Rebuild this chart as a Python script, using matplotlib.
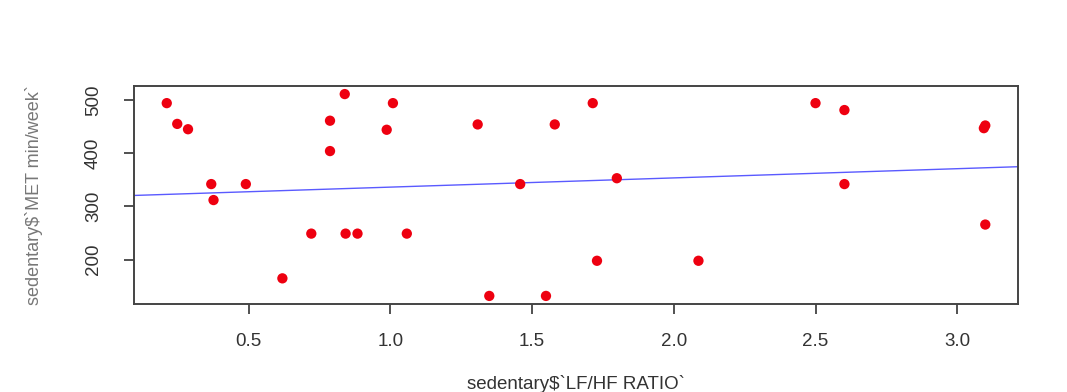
import numpy as np
import matplotlib
matplotlib.use("Agg")
import matplotlib.pyplot as plt

# LF/HF ratio vs MET min/week (sedentary group)
lf_hf = [0.211, 0.248, 0.286, 0.368, 0.376, 0.490, 0.619, 0.721, 0.787, 0.787,
         0.839, 0.842, 0.884, 0.987, 1.009, 1.058, 1.308, 1.349, 1.458, 1.549,
         1.580, 1.714, 1.729, 1.799, 2.087, 2.500, 2.602, 2.602, 3.099, 3.094,
         3.099]
met = [494, 455, 445, 342, 312, 342, 165, 249, 461, 404,
       511, 249, 249, 444, 494, 249, 454, 132, 342, 132,
       454, 494, 198, 353, 198, 494, 481, 342, 452, 447,
       266]

# fitted line as drawn in the original (abline)
line_intercept = 319.0
line_slope = 17.3

x_ticks = [0.5, 1.0, 1.5, 2.0, 2.5, 3.0]
y_ticks = [200, 300, 400, 500]

plt.rcParams['font.family'] = ['Liberation Sans', 'DejaVu Sans']

fig = plt.figure(figsize=(10.67, 3.92), dpi=100, facecolor='white')
ax = fig.add_axes([0.1256, 0.2245, 0.8285, 0.5561])

x = np.array(lf_hf)
y = np.array(met)
ax.scatter(x, y, s=55, color='#ee0010', edgecolors='none', zorder=3)

ax.axline((0, line_intercept), slope=line_slope, color='#5a5aff', linewidth=1.0, zorder=2)

xr = x.max() - x.min()
yr = y.max() - y.min()
ax.set_xlim(x.min() - 0.04 * xr, x.max() + 0.04 * xr)
ax.set_ylim(y.min() - 0.04 * yr, y.max() + 0.04 * yr)

ax.set_xticks(x_ticks)
ax.set_xticklabels(['%.1f' % t for t in x_ticks])
ax.set_yticks(y_ticks)
ax.set_yticklabels([str(t) for t in y_ticks], rotation=90, va='center')

ax.tick_params(axis='both', direction='out', length=7, width=1.2,
               colors='#333333', labelsize=13.5)
ax.tick_params(axis='x', pad=14)
ax.tick_params(axis='y', pad=16)
for s in ax.spines.values():
    s.set_linewidth(1.4)
    s.set_color('#444444')

ax.set_xlabel("sedentary$`LF/HF RATIO`", fontsize=13.5, color='#333333', labelpad=18)
ax.set_ylabel("sedentary$`MET min/week`", fontsize=13, color='#777777', labelpad=30)

fig.savefig('out.png', dpi=100)
